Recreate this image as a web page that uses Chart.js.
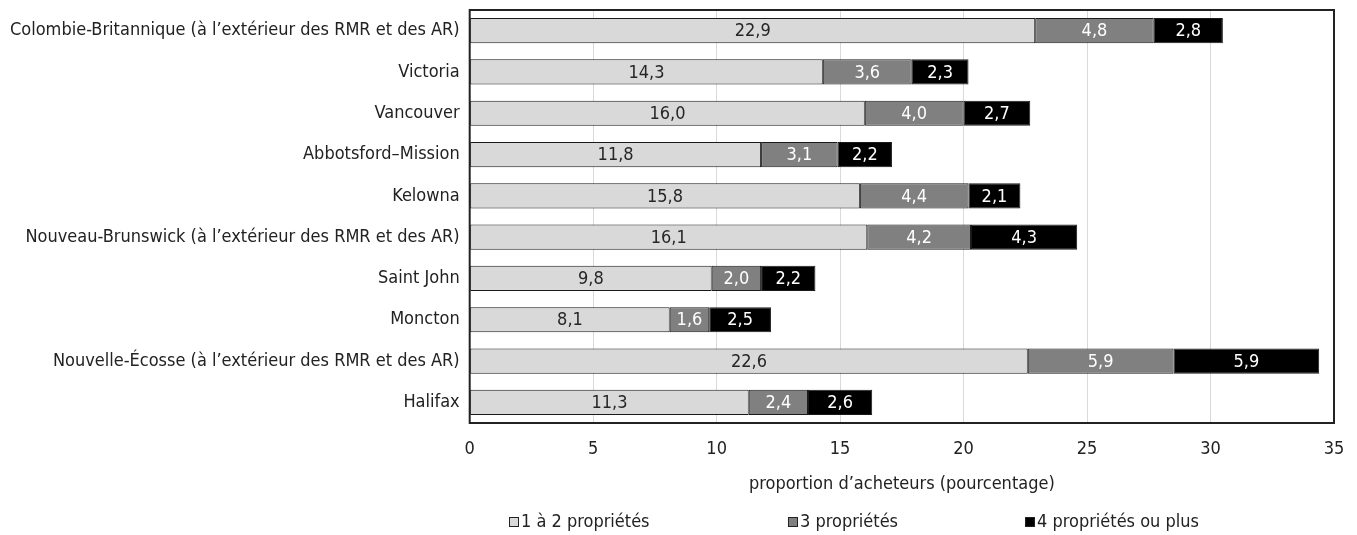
<!DOCTYPE html>
<html>
<head>
<meta charset="utf-8">
<script src="https://cdn.jsdelivr.net/npm/chart.js@4/dist/chart.umd.min.js"></script>
<style>
  html, body { margin: 0; padding: 0; background: #fff; }
  #wrap { width: 1357px; height: 535px; }
</style>
</head>
<body>
<div id="wrap"><canvas id="chart"></canvas></div>
<script>
// regions (top to bottom)
const regions = [
  "Colombie-Britannique (à l’extérieur des RMR et des AR)",
  "Victoria",
  "Vancouver",
  "Abbotsford–Mission",
  "Kelowna",
  "Nouveau-Brunswick (à l’extérieur des RMR et des AR)",
  "Saint John",
  "Moncton",
  "Nouvelle-Écosse (à l’extérieur des RMR et des AR)",
  "Halifax"
];
// share of buyers, in percent
const oneToTwo = [22.9, 14.3, 16.0, 11.8, 15.8, 16.1, 9.8, 8.1, 22.6, 11.3];
const three = [4.8, 3.6, 4.0, 3.1, 4.4, 4.2, 2.0, 1.6, 5.9, 2.4];
const fourPlus = [2.8, 2.3, 2.7, 2.2, 2.1, 4.3, 2.2, 2.5, 5.9, 2.6];
const seriesNames = ["1 à 2 propriétés", "3 propriétés", "4 propriétés ou plus"];
const xTicks = [0, 5, 10, 15, 20, 25, 30, 35];

const FONT = "'DejaVu Sans Condensed', 'Liberation Sans Narrow', sans-serif";
const SIZE = 18;
const fills = ["#d9d9d9", "#808080", "#000000"];
const labelColors = ["#262626", "#ffffff", "#ffffff"];

// value labels centred in each segment
const valueLabels = {
  id: "valueLabels",
  afterDatasetsDraw(chart) {
    const ctx = chart.ctx;
    ctx.save();
    ctx.font = SIZE + "px " + FONT;
    ctx.textAlign = "center";
    ctx.textBaseline = "middle";
    chart.data.datasets.forEach((ds, i) => {
      chart.getDatasetMeta(i).data.forEach((bar, j) => {
        const p = bar.getProps(["x", "y", "base"], true);
        ctx.fillStyle = labelColors[i];
        ctx.fillText(ds.data[j].toFixed(1).replace(".", ","), (p.x + p.base) / 2, p.y + 1);
      });
    });
    ctx.restore();
  }
};

// border round the plot area
const plotFrame = {
  id: "plotFrame",
  afterDatasetsDraw(chart) {
    const a = chart.chartArea, ctx = chart.ctx;
    ctx.save();
    ctx.strokeStyle = "#222";
    ctx.lineWidth = 2;
    ctx.strokeRect(a.left, a.top, a.right - a.left, a.bottom - a.top);
    ctx.restore();
  }
};

// legend row under the axis title
const bottomLegend = {
  id: "bottomLegend",
  afterDraw(chart) {
    const ctx = chart.ctx;
    const starts = [509, 788, 1025];
    const y = 522;
    ctx.save();
    ctx.font = SIZE + "px " + FONT;
    ctx.textBaseline = "middle";
    ctx.textAlign = "left";
    chart.data.datasets.forEach((ds, i) => {
      const x = starts[i];
      ctx.fillStyle = ds.backgroundColor;
      ctx.fillRect(x, y - 5, 10, 10);
      ctx.strokeStyle = "#222";
      ctx.lineWidth = 1;
      ctx.strokeRect(x + 0.5, y - 4.5, 9, 9);
      ctx.fillStyle = "#222";
      ctx.fillText(ds.label, x + 12, y);
    });
    ctx.restore();
  }
};

const datasets = [oneToTwo, three, fourPlus].map((vals, i) => ({
  label: seriesNames[i],
  data: vals,
  backgroundColor: fills[i],
  borderColor: "#1a1a1a",
  borderWidth: 1,
  borderSkipped: false,
  barPercentage: 0.61,
  categoryPercentage: 1
}));

new Chart(document.getElementById("chart"), {
  type: "bar",
  data: { labels: regions, datasets: datasets },
  options: {
    indexAxis: "y",
    responsive: true,
    maintainAspectRatio: false,
    animation: false,
    layout: { padding: { top: 10, right: 23, bottom: 40, left: 0 } },
    plugins: {
      legend: { display: false },
      tooltip: { enabled: false }
    },
    scales: {
      x: {
        stacked: true,
        min: 0,
        max: 35,
        afterBuildTicks(scale) { scale.ticks = xTicks.map(v => ({ value: v })); },
        afterFit(scale) { scale.height = 72; scale.paddingRight = 0; scale.paddingLeft = 0; },
        grid: { color: "#d9d9d9", drawTicks: false },
        border: { display: false },
        ticks: { color: "#222", font: { family: FONT, size: SIZE }, padding: 16 },
        title: {
          display: true,
          text: "proportion d’acheteurs (pourcentage)",
          color: "#222",
          font: { family: FONT, size: SIZE },
          padding: { top: 15, bottom: 0 }
        }
      },
      y: {
        stacked: true,
        grid: { display: false, drawTicks: false },
        border: { display: false },
        ticks: { color: "#222", font: { family: FONT, size: SIZE }, padding: 10 },
        afterFit(scale) { scale.paddingTop = 0; scale.paddingBottom = 0; }
      }
    }
  },
  plugins: [valueLabels, plotFrame, bottomLegend]
});
</script>
</body>
</html>
